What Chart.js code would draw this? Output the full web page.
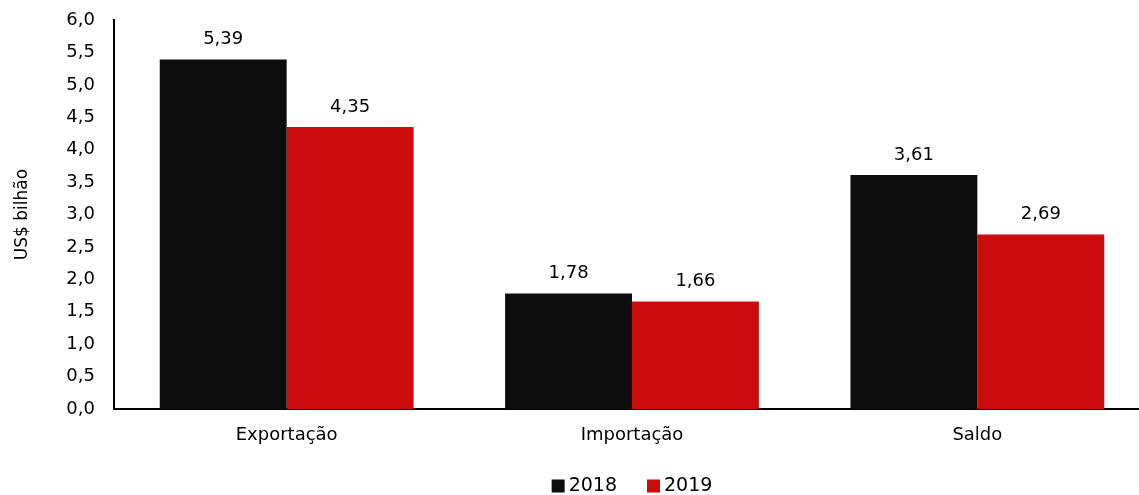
<!DOCTYPE html>
<html>
<head>
<meta charset="utf-8">
<script src="https://cdn.jsdelivr.net/npm/chart.js@4"></script>
<style>
  html, body { margin: 0; padding: 0; background: #fff; overflow: hidden; }
  #wrap { width: 1150px; height: 495px; position: relative; }
</style>
</head>
<body>
<div id="wrap"><canvas id="balanceChart"></canvas></div>
<script>
const categories = ["Exportação", "Importação", "Saldo"];
const years = ["2018", "2019"];
const values2018 = [5.39, 1.78, 3.61];
const values2019 = [4.35, 1.66, 2.69];
const yTicks = [0, 0.5, 1, 1.5, 2, 2.5, 3, 3.5, 4, 4.5, 5, 5.5, 6];

const fmt = (v, d) => v.toFixed(d).replace(".", ",");
const fontFamily = "'DejaVu Sans', sans-serif";

// value labels above each bar
const barLabels = {
  id: "barLabels",
  afterDatasetsDraw(chart) {
    const ctx = chart.ctx;
    ctx.save();
    ctx.font = "18px " + fontFamily;
    ctx.fillStyle = "#000";
    ctx.textAlign = "center";
    ctx.textBaseline = "bottom";
    chart.data.datasets.forEach((ds, i) => {
      chart.getDatasetMeta(i).data.forEach((bar, j) => {
        ctx.fillText(fmt(ds.data[j], 2), bar.x, bar.y - 11);
      });
    });
    ctx.restore();
  },
};

// small legend centred under the plot area: square box, text right next to it
const bottomLegend = {
  id: "bottomLegend",
  afterDraw(chart) {
    const ctx = chart.ctx;
    const area = chart.chartArea;
    const box = 13, gapText = 4, gapItem = 30, y = 486;
    ctx.save();
    ctx.font = "19px " + fontFamily;
    ctx.textBaseline = "middle";
    ctx.textAlign = "left";
    const items = chart.data.datasets.map((ds) => ({
      text: ds.label,
      color: ds.backgroundColor,
      w: box + gapText + ctx.measureText(ds.label).width,
    }));
    const total = items.reduce((s, it) => s + it.w, 0) + gapItem * (items.length - 1);
    let x = (area.left + area.right) / 2 - total / 2;
    items.forEach((it) => {
      ctx.fillStyle = it.color;
      ctx.fillRect(x, y - box / 2, box, box);
      ctx.fillStyle = "#000";
      ctx.fillText(it.text, x + box + gapText, y);
      x += it.w + gapItem;
    });
    ctx.restore();
  },
};

const ctx = document.getElementById("balanceChart").getContext("2d");
new Chart(ctx, {
  type: "bar",
  data: {
    labels: categories,
    datasets: [
      { label: years[0], data: values2018, backgroundColor: "#0d0d0d" },
      { label: years[1], data: values2019, backgroundColor: "#cc0c0c" },
    ],
  },
  options: {
    responsive: true,
    maintainAspectRatio: false,
    animation: false,
    layout: { padding: { top: 20, right: 0, left: 0, bottom: 46 } },
    datasets: { bar: { categoryPercentage: 0.735, barPercentage: 1 } },
    scales: {
      x: {
        afterFit(scale) {
          scale.height = 40;
        },
        grid: { display: false, drawTicks: false },
        border: { color: "#000", width: 2 },
        ticks: { color: "#000", font: { family: fontFamily, size: 18 }, padding: 16 },
      },
      y: {
        min: 0,
        max: 6,
        afterBuildTicks(scale) {
          scale.ticks = yTicks.map((v) => ({ value: v }));
        },
        afterFit(scale) {
          scale.width = 114;
          scale.paddingTop = 0;
          scale.paddingBottom = 0;
        },
        grid: { display: false, drawTicks: false },
        border: { color: "#000", width: 2 },
        ticks: {
          color: "#000",
          font: { family: fontFamily, size: 18 },
          padding: 19,
          callback: (v) => fmt(v, 1),
        },
        title: {
          display: true,
          text: "US$ bilhão",
          color: "#000",
          font: { family: fontFamily, size: 17 },
          padding: { top: 12, bottom: 0 },
        },
      },
    },
    plugins: {
      legend: { display: false },
      tooltip: { enabled: false },
    },
  },
  plugins: [barLabels, bottomLegend],
});
</script>
</body>
</html>
